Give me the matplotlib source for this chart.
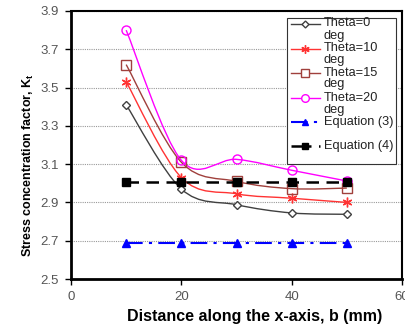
import numpy as np
import matplotlib
matplotlib.use("Agg")
import matplotlib.pyplot as plt
from matplotlib.path import Path
from matplotlib.patches import PathPatch, Rectangle
from matplotlib.lines import Line2D

plt.rcParams['font.family'] = ['Liberation Sans', 'DejaVu Sans']

x = [10, 20, 30, 40, 50]
theta0 = [3.41, 2.97, 2.888, 2.845, 2.838]
theta10 = [3.53, 3.03, 2.945, 2.922, 2.90]
theta15 = [3.62, 3.11, 3.01, 2.972, 2.975]
theta20 = [3.80, 3.12, 3.125, 3.068, 3.012]
eq3 = [2.69, 2.69, 2.69, 2.69, 2.69]
eq4 = [3.005, 3.005, 3.005, 3.005, 3.005]
labels = ["Theta=0\ndeg", "Theta=10\ndeg", "Theta=15\ndeg", "Theta=20\ndeg",
          "Equation (3)", "Equation (4)"]
yticks = [2.5, 2.7, 2.9, 3.1, 3.3, 3.5, 3.7, 3.9]
xticks = [0, 20, 40, 60]

fig = plt.figure(figsize=(4.05, 3.28), dpi=100)
ax = fig.add_axes([71/405, 49/328, 331/405, 268/328])


def smooth(ax, xs, ys, color, lw=1.0):
    pts = np.column_stack([xs, ys]).astype(float)
    n = len(pts)
    verts = [pts[0]]
    codes = [Path.MOVETO]
    for i in range(n - 1):
        p0 = pts[i - 1] if i > 0 else pts[i]
        p1 = pts[i]
        p2 = pts[i + 1]
        p3 = pts[i + 2] if i + 2 < n else pts[i + 1]
        c1 = p1 + (p2 - p0) / 6.0
        c2 = p2 - (p3 - p1) / 6.0
        verts += [c1, c2, p2]
        codes += [Path.CURVE4] * 3
    ax.add_patch(PathPatch(Path(verts, codes), facecolor='none', edgecolor=color, lw=lw, zorder=3))


series = [
    (theta0, '#404040', 'D', 4.5, dict(markerfacecolor='white')),
    (theta10, '#FF3333', (6, 2, 0), 7, dict()),
    (theta15, '#A0403C', 's', 6.5, dict(markerfacecolor='none')),
    (theta20, '#FF00FF', 'o', 6.5, dict(markerfacecolor='none')),
]
for ys, c, m, ms, kw in series:
    smooth(ax, x, ys, c)
    ax.plot(x, ys, linestyle='none', marker=m, markersize=ms, color=c,
            markeredgecolor=c, markeredgewidth=1.0, zorder=4, **kw)

ax.plot(x, eq3, color='#0000FF', linestyle=(0, (8, 3, 1.5, 3)), lw=1.5,
        marker='^', markersize=5.5, zorder=5)
ax.plot(x, eq4, color='black', linestyle=(0, (5, 3)), lw=1.8,
        marker='s', markersize=5.5, zorder=5)

ax.set_xlim(0, 60)
ax.set_ylim(2.5, 3.9)
ax.set_xticks(xticks)
ax.set_yticks(yticks)
ax.set_yticklabels([f"{v:.1f}" for v in yticks])
ax.yaxis.grid(True, color='#999999', linestyle=(0, (1, 1)), lw=0.8)
ax.set_axisbelow(True)
ax.tick_params(axis='both', direction='out', length=4, width=1, labelsize=9.5,
               labelcolor='#555555', color='black', pad=5)
for s in ax.spines.values():
    s.set_linewidth(1.5)
    s.set_color('black')
ax.spines['left'].set_linewidth(2)
ax.spines['bottom'].set_linewidth(2)

ax.set_xlabel("Distance along the x-axis, b (mm)", fontsize=11.5,
              fontweight='bold')
ax.xaxis.set_label_coords((255 - 71) / 331, -(309 - 279) / 268)
ax.set_ylabel("Stress concentration factor, K$_\\mathregular{t}$", fontsize=9,
              fontweight='bold')
ax.yaxis.set_label_coords(-(71 - 36) / 331, (279 - 165) / 268)

# legend drawn manually
ax.add_patch(Rectangle((287/405, 1 - 164/328), 109/405, 146/328,
                       transform=fig.transFigure, facecolor='white',
                       edgecolor='#333333', lw=0.8, zorder=6))
rows = [24, 48.5, 73, 98, 122, 146]
handles = [
    dict(color='#404040', marker='D', ms=3.5, mfc='white', ls='-', lw=1),
    dict(color='#FF3333', marker=(6, 2, 0), ms=6, ls='-', lw=1),
    dict(color='#A0403C', marker='s', ms=5.5, mfc='white', ls='-', lw=1),
    dict(color='#FF00FF', marker='o', ms=5.5, mfc='white', ls='-', lw=1),
    dict(color='#0000FF', marker='^', ms=5, ls=(0, (8, 3, 1.5, 3)), lw=1.5),
    dict(color='black', marker='s', ms=5, ls=(0, (8, 3, 5, 3)), lw=1.8),
]
for lab, yy, h in zip(labels, rows, handles):
    yf = 1 - yy / 328
    kw = dict(h)
    ln = Line2D([291/405, 320/405], [yf, yf], transform=fig.transFigure,
                color=kw.pop('color'), ls=kw.pop('ls'), lw=kw.pop('lw'), zorder=7)
    fig.add_artist(ln)
    mk = Line2D([305/405], [yf], transform=fig.transFigure, color=ln.get_color(),
                marker=kw['marker'], markersize=kw['ms'],
                markerfacecolor=kw.get('mfc', ln.get_color()), ls='none', zorder=8)
    fig.add_artist(mk)
    fig.text(324/405, yf + 6.5/328, lab, fontsize=9.2, va='top', ha='left',
             color='#222222', linespacing=1.0, zorder=8)

fig.savefig("out.png", dpi=100)
